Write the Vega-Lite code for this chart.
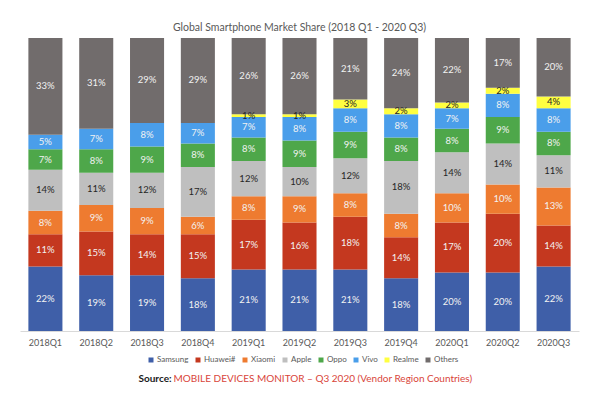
{
  "$schema": "https://vega.github.io/schema/vega-lite/v6.json",
  "width": 559,
  "height": 293,
  "autosize": {"type": "none"},
  "padding": {"left": 20, "top": 38, "right": 21, "bottom": 66},
  "background": "white",
  "config": {"view": {"stroke": null}, "font": "Lato"},
  "title": {"text": "Global Smartphone Market Share (2018 Q1 - 2020 Q3)", "fontSize": 10.5, "fontWeight": "normal", "color": "#595959", "anchor": "middle", "frame": "group", "offset": 4, "dy": 9, "baseline": "bottom"},
  "data": {"values": [
    {"q":"2018Q1","brand":"Samsung","v":0.22},{"q":"2018Q1","brand":"Huawei#","v":0.11},{"q":"2018Q1","brand":"Xiaomi","v":0.08},{"q":"2018Q1","brand":"Apple","v":0.14},{"q":"2018Q1","brand":"Oppo","v":0.07},{"q":"2018Q1","brand":"Vivo","v":0.05},{"q":"2018Q1","brand":"Others","v":0.33},
    {"q":"2018Q2","brand":"Samsung","v":0.19},{"q":"2018Q2","brand":"Huawei#","v":0.15},{"q":"2018Q2","brand":"Xiaomi","v":0.09},{"q":"2018Q2","brand":"Apple","v":0.11},{"q":"2018Q2","brand":"Oppo","v":0.08},{"q":"2018Q2","brand":"Vivo","v":0.07},{"q":"2018Q2","brand":"Others","v":0.31},
    {"q":"2018Q3","brand":"Samsung","v":0.19},{"q":"2018Q3","brand":"Huawei#","v":0.14},{"q":"2018Q3","brand":"Xiaomi","v":0.09},{"q":"2018Q3","brand":"Apple","v":0.12},{"q":"2018Q3","brand":"Oppo","v":0.09},{"q":"2018Q3","brand":"Vivo","v":0.08},{"q":"2018Q3","brand":"Others","v":0.29},
    {"q":"2018Q4","brand":"Samsung","v":0.18},{"q":"2018Q4","brand":"Huawei#","v":0.15},{"q":"2018Q4","brand":"Xiaomi","v":0.06},{"q":"2018Q4","brand":"Apple","v":0.17},{"q":"2018Q4","brand":"Oppo","v":0.08},{"q":"2018Q4","brand":"Vivo","v":0.07},{"q":"2018Q4","brand":"Others","v":0.29},
    {"q":"2019Q1","brand":"Samsung","v":0.21},{"q":"2019Q1","brand":"Huawei#","v":0.17},{"q":"2019Q1","brand":"Xiaomi","v":0.08},{"q":"2019Q1","brand":"Apple","v":0.12},{"q":"2019Q1","brand":"Oppo","v":0.08},{"q":"2019Q1","brand":"Vivo","v":0.07},{"q":"2019Q1","brand":"Realme","v":0.01},{"q":"2019Q1","brand":"Others","v":0.26},
    {"q":"2019Q2","brand":"Samsung","v":0.21},{"q":"2019Q2","brand":"Huawei#","v":0.16},{"q":"2019Q2","brand":"Xiaomi","v":0.09},{"q":"2019Q2","brand":"Apple","v":0.10},{"q":"2019Q2","brand":"Oppo","v":0.09},{"q":"2019Q2","brand":"Vivo","v":0.08},{"q":"2019Q2","brand":"Realme","v":0.01},{"q":"2019Q2","brand":"Others","v":0.26},
    {"q":"2019Q3","brand":"Samsung","v":0.21},{"q":"2019Q3","brand":"Huawei#","v":0.18},{"q":"2019Q3","brand":"Xiaomi","v":0.08},{"q":"2019Q3","brand":"Apple","v":0.12},{"q":"2019Q3","brand":"Oppo","v":0.09},{"q":"2019Q3","brand":"Vivo","v":0.08},{"q":"2019Q3","brand":"Realme","v":0.03},{"q":"2019Q3","brand":"Others","v":0.21},
    {"q":"2019Q4","brand":"Samsung","v":0.18},{"q":"2019Q4","brand":"Huawei#","v":0.14},{"q":"2019Q4","brand":"Xiaomi","v":0.08},{"q":"2019Q4","brand":"Apple","v":0.18},{"q":"2019Q4","brand":"Oppo","v":0.08},{"q":"2019Q4","brand":"Vivo","v":0.08},{"q":"2019Q4","brand":"Realme","v":0.02},{"q":"2019Q4","brand":"Others","v":0.24},
    {"q":"2020Q1","brand":"Samsung","v":0.20},{"q":"2020Q1","brand":"Huawei#","v":0.17},{"q":"2020Q1","brand":"Xiaomi","v":0.10},{"q":"2020Q1","brand":"Apple","v":0.14},{"q":"2020Q1","brand":"Oppo","v":0.08},{"q":"2020Q1","brand":"Vivo","v":0.07},{"q":"2020Q1","brand":"Realme","v":0.02},{"q":"2020Q1","brand":"Others","v":0.22},
    {"q":"2020Q2","brand":"Samsung","v":0.20},{"q":"2020Q2","brand":"Huawei#","v":0.20},{"q":"2020Q2","brand":"Xiaomi","v":0.10},{"q":"2020Q2","brand":"Apple","v":0.14},{"q":"2020Q2","brand":"Oppo","v":0.09},{"q":"2020Q2","brand":"Vivo","v":0.08},{"q":"2020Q2","brand":"Realme","v":0.02},{"q":"2020Q2","brand":"Others","v":0.17},
    {"q":"2020Q3","brand":"Samsung","v":0.22},{"q":"2020Q3","brand":"Huawei#","v":0.14},{"q":"2020Q3","brand":"Xiaomi","v":0.13},{"q":"2020Q3","brand":"Apple","v":0.11},{"q":"2020Q3","brand":"Oppo","v":0.08},{"q":"2020Q3","brand":"Vivo","v":0.08},{"q":"2020Q3","brand":"Realme","v":0.04},{"q":"2020Q3","brand":"Others","v":0.20}
  ]},
  "transform": [
    {"calculate": "indexof(['Samsung', 'Huawei#', 'Xiaomi', 'Apple', 'Oppo', 'Vivo', 'Realme', 'Others'], datum.brand)", "as": "stackOrder"}
  ],
  "encoding": {
    "x": {"field": "q", "type": "nominal", "sort": null,
      "scale": {"paddingInner": 0.33, "paddingOuter": 0.165},
      "axis": {"labelAngle": 0, "labelColor": "#595959", "labelFontSize": 9, "ticks": false, "domainColor": "#D9D9D9", "labelPadding": 7,
        "title": "MOBILE DEVICES MONITOR – Q3 2020 (Vendor Region Countries)", "titleColor": "#D9453A", "titleFontSize": 10, "titleFontWeight": "normal",
        "titleAlign": "left", "titleAnchor": "start", "titleBaseline": "middle", "titleX": 153, "titleY": 47}},
    "order": {"field": "stackOrder", "type": "quantitative", "sort": "ascending"}
  },
  "layer": [
    {
      "mark": {"type": "bar"},
      "encoding": {
        "y": {"field": "v", "type": "quantitative", "stack": "zero", "scale": {"domain": [0, 1], "nice": false},
          "axis": {"domain": false, "labels": false, "ticks": false, "grid": false,
            "title": "Source:", "titleAngle": 0, "titleColor": "#1a1a1a", "titleFontSize": 10, "titleFontWeight": "bold",
            "titleAlign": "left", "titleBaseline": "middle", "titleX": 118, "titleY": 340}},
        "color": {"field": "brand", "type": "nominal",
          "sort": ["Samsung", "Huawei#", "Xiaomi", "Apple", "Oppo", "Vivo", "Realme", "Others"],
          "scale": {"domain": ["Samsung", "Huawei#", "Xiaomi", "Apple", "Oppo", "Vivo", "Realme", "Others"],
            "range": ["#3F5FA8", "#C4381F", "#EE7B30", "#BFBFBF", "#4EA74A", "#4A9EEA", "#FFFF40", "#716C6C"]},
          "legend": {"orient": "none", "legendX": 127, "legendY": 318, "direction": "horizontal", "columns": 8, "title": null,
            "symbolType": "square", "symbolSize": 25, "symbolStrokeWidth": 0, "labelFontSize": 8, "labelColor": "#595959", "columnPadding": 5, "labelOffset": 2}}
      }
    },
    {
      "mark": {"type": "text", "fontSize": 9.5, "baseline": "middle"},
      "encoding": {
        "y": {"field": "v", "type": "quantitative", "stack": "zero", "bandPosition": 0.5},
        "text": {"field": "v", "type": "quantitative", "format": ".0%"},
        "color": {"condition": {"test": "datum.brand === 'Apple' || datum.brand === 'Realme'", "value": "#262626"}, "value": "#F2F2F2"}
      }
    }
  ]
}
